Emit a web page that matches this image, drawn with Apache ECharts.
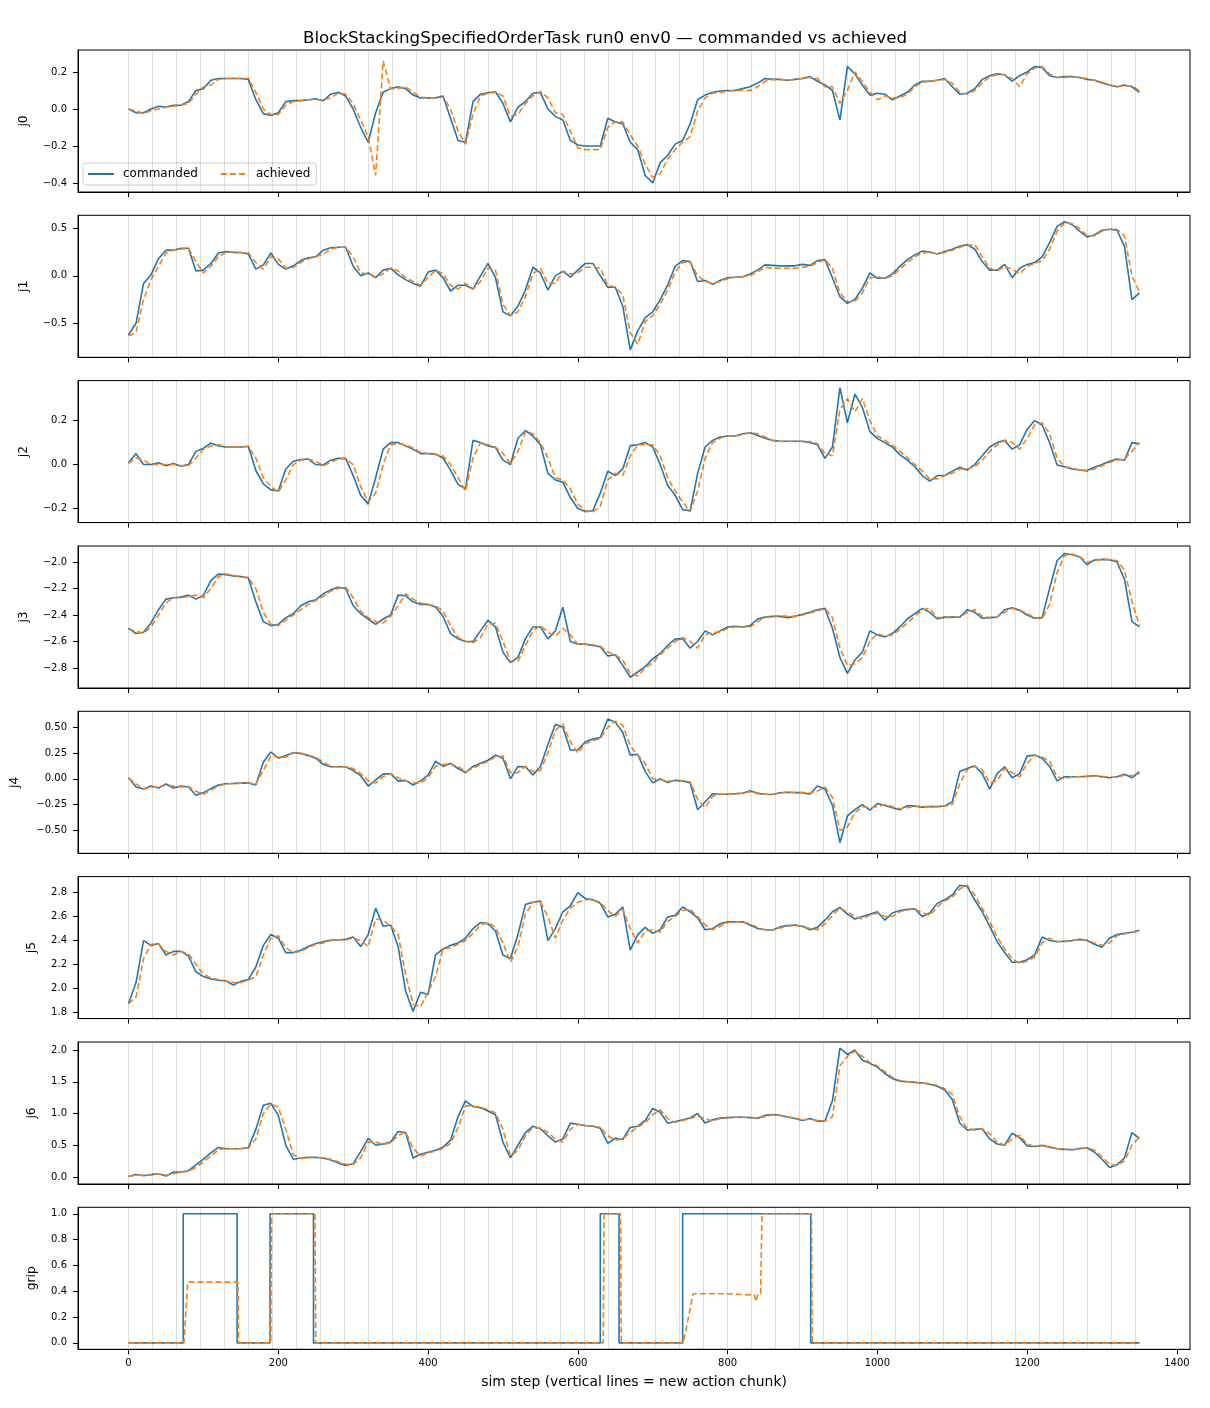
<!DOCTYPE html>
<html><head><meta charset="utf-8">
<script src="https://cdn.jsdelivr.net/npm/echarts@6/dist/echarts.min.js"></script>
<style>html,body{margin:0;padding:0;background:#fff}#c{width:1210px;height:1408px}</style>
</head><body><div id="c"></div>
<script>
// ---------- data ----------
const steps = [0,10,20,30,40,50,60,70,80,90,
100,110,120,130,140,150,160,170,180,190,
200,210,220,230,240,250,260,270,280,290,
300,310,320,330,340,350,360,370,380,390,
400,410,420,430,440,450,460,470,480,490,
500,510,520,530,540,550,560,570,580,590,
600,610,620,630,640,650,660,670,680,690,
700,710,720,730,740,750,760,770,780,790,
800,810,820,830,840,850,860,870,880,890,
900,910,920,930,940,950,960,970,980,990,
1000,1010,1020,1030,1040,1050,1060,1070,1080,1090,
1100,1110,1120,1130,1140,1150,1160,1170,1180,1190,
1200,1210,1220,1230,1240,1250,1260,1270,1280,1290,
1300,1310,1320,1330,1340,1350];

const j0Cmd = [0.0,-0.02,-0.02,0.0,0.015,0.01,0.02,0.02,0.04,0.10,
0.11,0.155,0.165,0.165,0.165,0.165,0.16,0.05,-0.025,-0.035,
-0.02,0.04,0.045,0.045,0.05,0.055,0.045,0.08,0.09,0.07,
0.0,-0.10,-0.18,-0.02,0.09,0.11,0.12,0.11,0.075,0.06,
0.06,0.06,0.07,-0.05,-0.17,-0.18,0.04,0.08,0.088,0.093,
0.03,-0.07,0.01,0.04,0.085,0.09,0.0,-0.04,-0.06,-0.17,
-0.195,-0.2,-0.2,-0.2,-0.05,-0.07,-0.08,-0.18,-0.22,-0.36,
-0.40,-0.29,-0.25,-0.19,-0.17,-0.08,0.05,0.075,0.09,0.097,
0.10,0.10,0.11,0.12,0.14,0.165,0.16,0.16,0.155,0.16,
0.165,0.175,0.15,0.13,0.10,-0.06,0.23,0.19,0.13,0.075,
0.085,0.08,0.05,0.07,0.09,0.13,0.15,0.15,0.155,0.165,
0.12,0.08,0.085,0.11,0.16,0.18,0.19,0.185,0.15,0.18,
0.2,0.23,0.225,0.18,0.17,0.175,0.175,0.17,0.16,0.155,
0.14,0.13,0.12,0.13,0.12,0.09];
const j0Ach = [0.0,-0.01,-0.025,-0.01,0.0,0.01,0.015,0.02,0.03,0.08,
0.12,0.13,0.16,0.165,0.165,0.165,0.165,0.09,0.0,-0.03,
-0.03,0.02,0.04,0.045,0.05,0.05,0.05,0.06,0.085,0.08,
0.03,-0.06,-0.15,-0.36,0.26,0.11,0.11,0.12,0.09,0.065,
0.06,0.06,0.065,0.0,-0.12,-0.19,-0.03,0.07,0.085,0.09,
0.07,-0.04,-0.03,0.03,0.07,0.095,0.06,-0.02,-0.03,-0.12,
-0.21,-0.22,-0.22,-0.22,-0.1,-0.07,-0.07,-0.14,-0.2,-0.3,
-0.37,-0.35,-0.27,-0.22,-0.18,-0.15,-0.01,0.06,0.085,0.09,
0.095,0.10,0.10,0.10,0.12,0.15,0.16,0.16,0.155,0.16,
0.165,0.17,0.165,0.12,0.12,0.03,0.10,0.2,0.15,0.09,
0.05,0.07,0.06,0.06,0.08,0.12,0.145,0.15,0.155,0.16,
0.14,0.09,0.08,0.1,0.14,0.175,0.185,0.185,0.165,0.12,
0.19,0.22,0.23,0.19,0.17,0.17,0.175,0.17,0.165,0.155,
0.145,0.13,0.12,0.125,0.125,0.1];

const j1Cmd = [-0.62,-0.5,-0.08,0.01,0.18,0.27,0.27,0.29,0.29,0.05,
0.06,0.13,0.24,0.255,0.245,0.245,0.23,0.07,0.115,0.24,
0.12,0.07,0.105,0.16,0.19,0.20,0.27,0.295,0.30,0.30,
0.10,0.0,0.03,-0.02,0.06,0.08,0.01,-0.04,-0.08,-0.11,
0.04,0.06,-0.02,-0.16,-0.1,-0.1,-0.14,0.0,0.13,-0.02,
-0.38,-0.42,-0.32,-0.15,0.09,0.03,-0.15,0.0,0.05,-0.015,
0.06,0.13,0.13,0.0,-0.12,-0.12,-0.32,-0.78,-0.58,-0.44,
-0.38,-0.25,-0.095,0.1,0.16,0.15,-0.06,-0.05,-0.09,-0.05,
-0.02,-0.015,-0.01,0.02,0.06,0.115,0.11,0.105,0.105,0.105,
0.12,0.11,0.16,0.17,-0.02,-0.22,-0.29,-0.25,-0.13,0.03,
-0.025,-0.025,0.02,0.1,0.17,0.22,0.26,0.25,0.23,0.255,
0.28,0.31,0.33,0.28,0.15,0.06,0.06,0.12,-0.02,0.08,
0.12,0.14,0.2,0.35,0.52,0.57,0.54,0.47,0.41,0.43,
0.48,0.49,0.48,0.31,-0.25,-0.18];
const j1Ach = [-0.63,-0.6,-0.25,-0.04,0.1,0.24,0.27,0.28,0.29,0.15,
0.03,0.1,0.2,0.25,0.25,0.245,0.24,0.14,0.07,0.2,
0.18,0.08,0.09,0.14,0.18,0.2,0.23,0.28,0.3,0.3,
0.2,0.03,0.02,-0.01,0.02,0.08,0.05,-0.02,-0.06,-0.1,
-0.02,0.06,0.02,-0.1,-0.14,-0.08,-0.14,-0.06,0.08,0.06,
-0.3,-0.42,-0.38,-0.22,0.02,0.08,-0.08,-0.08,0.05,0.02,
0.03,0.09,0.09,0.08,-0.1,-0.12,-0.2,-0.6,-0.72,-0.48,
-0.42,-0.3,-0.15,0.04,0.14,0.15,0.0,-0.06,-0.08,-0.06,
-0.03,-0.015,-0.01,0.0,0.04,0.09,0.08,0.08,0.08,0.08,
0.09,0.1,0.14,0.17,0.08,-0.18,-0.27,-0.27,-0.18,-0.02,
-0.01,-0.03,0.0,0.07,0.14,0.2,0.24,0.25,0.23,0.245,
0.27,0.3,0.32,0.33,0.2,0.08,0.05,0.1,0.07,0.02,
0.1,0.13,0.16,0.28,0.47,0.56,0.55,0.5,0.42,0.42,
0.47,0.49,0.49,0.42,0.0,-0.17];

const j2Cmd = [0.008,0.05,0.0,0.0,0.008,-0.005,0.005,-0.008,0.0,0.06,
0.074,0.098,0.085,0.08,0.08,0.08,0.083,-0.027,-0.088,-0.115,
-0.12,-0.02,0.015,0.023,0.025,0.0,-0.002,0.02,0.029,0.028,
-0.05,-0.14,-0.18,-0.06,0.07,0.1,0.1,0.085,0.07,0.05,
0.05,0.048,0.03,-0.025,-0.09,-0.11,0.11,0.1,0.085,0.078,
0.02,0.0,0.12,0.155,0.13,0.09,-0.04,-0.07,-0.08,-0.15,
-0.2,-0.214,-0.21,-0.13,-0.03,-0.05,-0.02,0.086,0.09,0.1,
0.08,0.0,-0.095,-0.14,-0.205,-0.21,-0.04,0.08,0.11,0.125,
0.13,0.13,0.14,0.145,0.132,0.12,0.11,0.106,0.106,0.106,
0.106,0.1,0.09,0.028,0.08,0.35,0.19,0.32,0.26,0.15,
0.118,0.1,0.08,0.045,0.02,-0.01,-0.05,-0.075,-0.05,-0.05,
-0.03,-0.012,-0.025,0.0,0.04,0.08,0.1,0.11,0.07,0.09,
0.16,0.2,0.18,0.1,-0.002,-0.01,-0.02,-0.025,-0.027,-0.012,
0.0,0.015,0.025,0.02,0.1,0.094];
const j2Ach = [0.005,0.03,0.02,0.0,0.0,0.0,0.0,-0.005,-0.005,0.03,
0.07,0.085,0.09,0.08,0.08,0.08,0.082,0.03,-0.06,-0.1,
-0.125,-0.07,0.0,0.02,0.025,0.015,-0.005,0.01,0.025,0.028,
0.0,-0.1,-0.17,-0.13,0.0,0.09,0.095,0.09,0.075,0.055,
0.05,0.045,0.04,0.0,-0.06,-0.12,0.03,0.1,0.09,0.08,
0.05,0.005,0.06,0.15,0.14,0.1,0.03,-0.06,-0.07,-0.11,
-0.18,-0.21,-0.215,-0.19,-0.07,-0.04,-0.05,0.04,0.09,0.09,
0.09,0.04,-0.06,-0.12,-0.17,-0.215,-0.12,0.03,0.1,0.12,
0.13,0.13,0.135,0.145,0.14,0.125,0.11,0.105,0.105,0.105,
0.105,0.105,0.095,0.05,0.04,0.25,0.3,0.24,0.3,0.2,
0.13,0.11,0.09,0.06,0.03,0.0,-0.03,-0.065,-0.065,-0.05,
-0.04,-0.02,-0.02,-0.01,0.02,0.06,0.09,0.11,0.1,0.07,
0.12,0.18,0.19,0.14,0.03,-0.01,-0.015,-0.025,-0.03,-0.02,
-0.005,0.01,0.02,0.025,0.06,0.1];

const j3Cmd = [-2.50,-2.54,-2.53,-2.46,-2.36,-2.28,-2.27,-2.265,-2.25,-2.28,
-2.25,-2.14,-2.09,-2.095,-2.105,-2.11,-2.12,-2.3,-2.45,-2.48,
-2.47,-2.42,-2.39,-2.33,-2.3,-2.285,-2.24,-2.21,-2.19,-2.2,
-2.33,-2.39,-2.43,-2.47,-2.43,-2.4,-2.25,-2.255,-2.3,-2.32,
-2.32,-2.34,-2.41,-2.54,-2.58,-2.6,-2.6,-2.52,-2.44,-2.49,
-2.68,-2.76,-2.72,-2.58,-2.49,-2.49,-2.58,-2.52,-2.34,-2.6,
-2.62,-2.62,-2.63,-2.64,-2.71,-2.7,-2.78,-2.87,-2.83,-2.79,
-2.73,-2.69,-2.63,-2.58,-2.58,-2.65,-2.6,-2.52,-2.55,-2.52,
-2.49,-2.485,-2.49,-2.48,-2.43,-2.416,-2.41,-2.41,-2.42,-2.41,
-2.395,-2.38,-2.36,-2.35,-2.5,-2.72,-2.84,-2.74,-2.68,-2.52,
-2.55,-2.565,-2.54,-2.49,-2.43,-2.39,-2.35,-2.38,-2.43,-2.416,
-2.416,-2.416,-2.36,-2.38,-2.425,-2.42,-2.416,-2.36,-2.345,-2.365,
-2.4,-2.425,-2.42,-2.2,-1.99,-1.935,-1.945,-1.96,-2.02,-1.985,
-1.98,-1.983,-2.0,-2.13,-2.45,-2.49];
const j3Ach = [-2.51,-2.52,-2.54,-2.49,-2.4,-2.31,-2.27,-2.27,-2.26,-2.25,
-2.27,-2.2,-2.11,-2.09,-2.1,-2.11,-2.115,-2.2,-2.38,-2.47,
-2.48,-2.44,-2.4,-2.36,-2.32,-2.29,-2.26,-2.22,-2.2,-2.19,
-2.27,-2.37,-2.42,-2.45,-2.46,-2.41,-2.33,-2.24,-2.28,-2.31,
-2.32,-2.33,-2.37,-2.48,-2.57,-2.6,-2.61,-2.57,-2.47,-2.46,
-2.6,-2.75,-2.75,-2.63,-2.52,-2.48,-2.53,-2.56,-2.5,-2.55,
-2.62,-2.62,-2.625,-2.635,-2.68,-2.7,-2.74,-2.84,-2.86,-2.8,
-2.76,-2.7,-2.65,-2.6,-2.57,-2.6,-2.65,-2.55,-2.53,-2.53,
-2.5,-2.49,-2.49,-2.49,-2.45,-2.42,-2.41,-2.405,-2.41,-2.41,
-2.4,-2.385,-2.37,-2.35,-2.42,-2.65,-2.78,-2.77,-2.72,-2.6,
-2.54,-2.56,-2.55,-2.51,-2.46,-2.41,-2.36,-2.35,-2.42,-2.42,
-2.42,-2.415,-2.38,-2.36,-2.41,-2.42,-2.415,-2.38,-2.35,-2.36,
-2.39,-2.42,-2.43,-2.32,-2.08,-1.95,-1.94,-1.96,-2.0,-1.99,
-1.98,-1.98,-1.99,-2.06,-2.3,-2.48];

const j4Cmd = [0.01,-0.08,-0.1,-0.07,-0.09,-0.05,-0.09,-0.07,-0.08,-0.16,
-0.134,-0.095,-0.06,-0.048,-0.045,-0.042,-0.04,-0.06,0.16,0.26,
0.2,0.225,0.254,0.245,0.225,0.2,0.14,0.117,0.117,0.117,
0.08,0.03,-0.07,-0.01,0.045,0.05,-0.023,-0.015,-0.06,-0.02,
0.036,0.17,0.12,0.15,0.1,0.06,0.12,0.15,0.18,0.23,
0.2,0.0,0.12,0.117,0.036,0.12,0.33,0.53,0.5,0.28,
0.28,0.36,0.385,0.4,0.58,0.55,0.45,0.23,0.238,0.07,
-0.04,0.0,-0.036,-0.015,-0.02,-0.04,-0.3,-0.225,-0.145,-0.15,
-0.15,-0.145,-0.14,-0.115,-0.143,-0.15,-0.153,-0.135,-0.13,-0.134,
-0.134,-0.15,-0.07,-0.1,-0.257,-0.62,-0.36,-0.3,-0.25,-0.305,
-0.24,-0.26,-0.28,-0.3,-0.26,-0.265,-0.275,-0.27,-0.27,-0.264,
-0.225,0.07,0.1,0.127,0.05,-0.1,0.05,0.117,0.01,0.05,
0.22,0.23,0.2,0.12,-0.02,0.02,0.02,0.02,0.025,0.03,
0.02,0.01,0.02,0.045,0.01,0.07];
const j4Ach = [0.01,-0.05,-0.1,-0.08,-0.08,-0.06,-0.07,-0.08,-0.075,-0.12,
-0.15,-0.11,-0.07,-0.05,-0.045,-0.043,-0.04,-0.05,0.08,0.22,
0.21,0.21,0.25,0.25,0.23,0.21,0.16,0.12,0.117,0.117,
0.1,0.05,-0.02,-0.04,0.02,0.05,0.01,-0.02,-0.04,-0.04,
0.01,0.12,0.14,0.14,0.12,0.07,0.1,0.14,0.17,0.21,
0.22,0.06,0.06,0.12,0.07,0.08,0.25,0.47,0.53,0.36,
0.25,0.34,0.37,0.39,0.5,0.56,0.52,0.32,0.23,0.15,
0.0,-0.01,-0.02,-0.025,-0.02,-0.03,-0.2,-0.28,-0.17,-0.15,
-0.15,-0.145,-0.14,-0.125,-0.135,-0.15,-0.15,-0.14,-0.13,-0.133,
-0.134,-0.14,-0.12,-0.08,-0.18,-0.5,-0.47,-0.33,-0.27,-0.28,
-0.27,-0.25,-0.27,-0.29,-0.28,-0.265,-0.27,-0.27,-0.27,-0.265,
-0.25,-0.05,0.09,0.12,0.09,-0.04,-0.02,0.1,0.06,0.02,
0.15,0.23,0.21,0.17,0.02,0.0,0.02,0.02,0.02,0.025,
0.025,0.015,0.015,0.035,0.03,0.05];

const j5Cmd = [1.875,2.05,2.4,2.36,2.375,2.28,2.31,2.31,2.27,2.14,
2.1,2.08,2.07,2.064,2.03,2.06,2.075,2.18,2.36,2.45,
2.42,2.3,2.3,2.32,2.35,2.375,2.39,2.405,2.405,2.41,
2.43,2.35,2.45,2.67,2.52,2.53,2.35,1.98,1.81,1.97,
1.95,2.28,2.33,2.36,2.38,2.42,2.5,2.55,2.54,2.48,
2.28,2.25,2.45,2.7,2.72,2.73,2.4,2.5,2.64,2.69,
2.8,2.75,2.74,2.71,2.597,2.62,2.68,2.32,2.45,2.51,
2.46,2.49,2.597,2.61,2.68,2.64,2.59,2.49,2.5,2.54,
2.556,2.556,2.556,2.53,2.5,2.49,2.486,2.514,2.525,2.53,
2.52,2.49,2.51,2.57,2.64,2.675,2.62,2.58,2.6,2.62,
2.64,2.57,2.63,2.65,2.66,2.665,2.6,2.63,2.71,2.74,
2.78,2.86,2.85,2.74,2.64,2.52,2.39,2.3,2.22,2.22,
2.24,2.28,2.43,2.4,2.39,2.395,2.4,2.41,2.4,2.37,
2.345,2.42,2.45,2.46,2.47,2.486];
const j5Ach = [1.875,1.93,2.25,2.37,2.37,2.31,2.28,2.31,2.29,2.2,
2.12,2.09,2.075,2.065,2.05,2.05,2.07,2.1,2.28,2.42,
2.44,2.34,2.3,2.31,2.34,2.37,2.38,2.4,2.405,2.405,
2.42,2.4,2.35,2.58,2.57,2.52,2.45,2.12,1.87,1.85,
1.97,2.1,2.33,2.34,2.37,2.4,2.46,2.53,2.55,2.51,
2.38,2.22,2.35,2.62,2.72,2.72,2.6,2.42,2.57,2.67,
2.72,2.74,2.74,2.72,2.65,2.6,2.66,2.5,2.38,2.48,
2.49,2.47,2.56,2.6,2.65,2.66,2.6,2.53,2.49,2.52,
2.55,2.556,2.555,2.54,2.51,2.49,2.49,2.505,2.52,2.525,
2.52,2.5,2.49,2.54,2.61,2.67,2.64,2.6,2.58,2.61,
2.63,2.6,2.6,2.64,2.655,2.665,2.63,2.61,2.68,2.73,
2.76,2.83,2.86,2.78,2.67,2.56,2.43,2.33,2.25,2.21,
2.23,2.26,2.38,2.42,2.395,2.39,2.4,2.41,2.405,2.38,
2.36,2.38,2.44,2.455,2.47,2.48];

const j6Cmd = [0.01,0.04,0.02,0.04,0.05,0.015,0.08,0.08,0.1,0.19,
0.28,0.38,0.466,0.445,0.445,0.45,0.46,0.75,1.13,1.16,
0.97,0.5,0.28,0.3,0.31,0.31,0.3,0.27,0.22,0.18,
0.21,0.4,0.61,0.5,0.52,0.55,0.717,0.7,0.3,0.36,
0.39,0.42,0.47,0.58,0.95,1.2,1.11,1.09,1.04,0.98,
0.55,0.3,0.5,0.7,0.8,0.76,0.65,0.55,0.6,0.848,
0.83,0.81,0.8,0.77,0.53,0.61,0.59,0.78,0.8,0.89,
1.08,1.02,0.848,0.874,0.9,0.93,1.0,0.85,0.9,0.927,
0.935,0.94,0.94,0.935,0.927,0.97,0.985,0.97,0.945,0.92,
0.89,0.92,0.88,0.88,1.2,2.03,1.93,2.0,1.84,1.79,
1.73,1.63,1.55,1.51,1.5,1.49,1.48,1.46,1.43,1.37,
1.22,0.85,0.74,0.75,0.76,0.6,0.52,0.5,0.69,0.62,
0.49,0.48,0.5,0.47,0.445,0.435,0.43,0.45,0.46,0.39,
0.28,0.15,0.19,0.3,0.7,0.61];
const j6Ach = [0.01,0.03,0.03,0.03,0.05,0.03,0.05,0.08,0.09,0.15,
0.24,0.33,0.43,0.45,0.445,0.445,0.455,0.6,1.0,1.15,
1.1,0.75,0.35,0.29,0.305,0.31,0.3,0.28,0.24,0.2,
0.2,0.3,0.55,0.55,0.51,0.54,0.65,0.71,0.45,0.33,
0.38,0.41,0.45,0.53,0.78,1.12,1.12,1.1,1.06,1.01,
0.75,0.33,0.42,0.65,0.78,0.77,0.7,0.6,0.55,0.75,
0.83,0.81,0.8,0.78,0.65,0.58,0.6,0.7,0.79,0.85,
0.98,1.06,0.92,0.86,0.89,0.92,0.96,0.92,0.88,0.92,
0.93,0.94,0.94,0.935,0.93,0.95,0.98,0.975,0.95,0.93,
0.9,0.91,0.89,0.88,0.95,1.75,1.9,1.98,1.9,1.8,
1.75,1.66,1.57,1.52,1.5,1.49,1.48,1.47,1.44,1.39,
1.3,0.95,0.76,0.74,0.76,0.68,0.55,0.5,0.6,0.66,
0.52,0.48,0.49,0.48,0.45,0.44,0.43,0.44,0.46,0.42,
0.32,0.2,0.18,0.25,0.5,0.63];

// grip is a step signal: change points
const gripCmdSteps = [0,73,73,145,145,189,189,247,247,630,630,655,655,740,740,911,911,1350];
const gripCmdVals  = [0,0,1,1,0,0,1,1,0,0,1,1,0,0,1,1,0,0];
const gripAchSteps = [0,74,79,146,147,190,191,249,250,634,635,657,658,741,746,754,800,836,838,840,844,846,912,913,1350];
const gripAchVals  = [0,0,0.47,0.47,0,0,1,1,0,0,1,1,0,0,0.15,0.38,0.38,0.37,0.32,0.37,0.37,1,1,0,0];

const chunkStarts = [0,32,64,96,128,160,192,224,256,288,320,352,384,416,448,480,512,544,576,608,640,672,704,736,768,800,832,864,896,928,960,992,1024,1056,1088,1120,1152,1184,1216,1248,1280,1312,1344];

const xTicks = [0,200,400,600,800,1000,1200,1400];
const j0Ticks = [-0.4,-0.2,0.0,0.2];
const j1Ticks = [-0.5,0.0,0.5];
const j2Ticks = [-0.2,0.0,0.2];
const j3Ticks = [-2.8,-2.6,-2.4,-2.2,-2.0];
const j4Ticks = [-0.5,-0.25,0.0,0.25,0.5];
const j5Ticks = [1.8,2.0,2.2,2.4,2.6,2.8];
const j6Ticks = [0.0,0.5,1.0,1.5,2.0];
const gripTicks = [0.0,0.2,0.4,0.6,0.8,1.0];

const titleText = 'BlockStackingSpecifiedOrderTask run0 env0 \u2014 commanded vs achieved';
const xLabelText = 'sim step (vertical lines = new action chunk)';

// ---------- layout ----------
const FONT = 'DejaVu Sans';
const BLUE = '#1f77b4', ORANGE = '#ff7f0e';
const panels = [
  {name:'j0', cmd:j0Cmd, ach:j0Ach, ticks:j0Ticks, min:-0.449, max:0.319, dec:1, gap:48},
  {name:'j1', cmd:j1Cmd, ach:j1Ach, ticks:j1Ticks, min:-0.858, max:0.637, dec:1, gap:48},
  {name:'j2', cmd:j2Cmd, ach:j2Ach, ticks:j2Ticks, min:-0.264, max:0.382, dec:1, gap:48},
  {name:'j3', cmd:j3Cmd, ach:j3Ach, ticks:j3Ticks, min:-2.951, max:-1.879, dec:1, gap:48},
  {name:'j4', cmd:j4Cmd, ach:j4Ach, ticks:j4Ticks, min:-0.723, max:0.655, dec:2, gap:57},
  {name:'j5', cmd:j5Cmd, ach:j5Ach, ticks:j5Ticks, min:1.75, max:2.933, dec:1, gap:40},
  {name:'j6', cmd:j6Cmd, ach:j6Ach, ticks:j6Ticks, min:-0.11, max:2.126, dec:1, gap:40},
  {name:'grip', ticks:gripTicks, min:-0.05, max:1.05, dec:1, gap:40}
];
const tops = [50, 215.3, 380.6, 546, 711.3, 876.6, 1042, 1207.3];
const H = 142;

function fmt(v, d){ return v.toFixed(d).replace('-', '\u2212'); }

const grids = [], xAxes = [], yAxes = [], series = [];
let bad = [];
panels.forEach((p, i) => {
  if (p.cmd && (p.cmd.length !== steps.length || p.ach.length !== steps.length)) bad.push(p.name);
  grids.push({left:78, width:1112, top:tops[i], height:H, show:true, borderColor:'#000', borderWidth:1, backgroundColor:'transparent'});
  const last = i === panels.length - 1;
  xAxes.push({
    type:'value', gridIndex:i, min:-67.5, max:1417.5,
    axisLine:{show:true, onZero:false, lineStyle:{color:'#000', width:1}},
    splitLine:{show:false},
    axisTick:{show:true, length:5, lineStyle:{color:'#000', width:1}, customValues:xTicks},
    axisLabel:{show:last, customValues:xTicks, fontSize:10, color:'#000', fontFamily:FONT, margin:9,
      formatter:v => String(v)},
    name: last ? xLabelText : '', nameLocation:'middle', nameGap:26,
    nameTextStyle:{fontSize:13.9, color:'#000', fontFamily:FONT}
  });
  yAxes.push({
    type:'value', gridIndex:i, min:p.min, max:p.max,
    axisLine:{show:true, onZero:false, lineStyle:{color:'#000', width:1}},
    splitLine:{show:false},
    axisTick:{show:true, length:5, lineStyle:{color:'#000', width:1}, customValues:p.ticks},
    axisLabel:{show:true, customValues:p.ticks, fontSize:10, color:'#000', fontFamily:FONT, margin:11,
      formatter:v => fmt(v, p.dec)},
    name:p.name, nameLocation:'middle', nameRotate:90, nameGap:p.gap,
    nameTextStyle:{fontSize:12.3, color:'#000', fontFamily:FONT}
  });
  series.push({
    type:'line', xAxisIndex:i, yAxisIndex:i, data:[], silent:true, z:1,
    markLine:{symbol:'none', silent:true, animation:false, label:{show:false},
      lineStyle:{color:'rgba(0,0,0,0.13)', width:1, type:'solid'},
      emphasis:{disabled:true},
      data: chunkStarts.map(v => ({xAxis:v}))}
  });
  let cmdData, achData;
  if (p.name === 'grip') {
    cmdData = gripCmdSteps.map((s,k) => [s, gripCmdVals[k]]);
    achData = gripAchSteps.map((s,k) => [s, gripAchVals[k]]);
  } else {
    cmdData = steps.map((s,k) => [s, p.cmd[k]]);
    achData = steps.map((s,k) => [s, p.ach[k]]);
  }
  series.push({
    type:'line', name:'commanded', xAxisIndex:i, yAxisIndex:i, data:cmdData,
    symbol:'none', showSymbol:false, z:3,
    lineStyle:{color:BLUE, width:1.6}, itemStyle:{color:BLUE}
  });
  series.push({
    type:'line', name:'achieved', xAxisIndex:i, yAxisIndex:i, data:achData,
    symbol:'none', showSymbol:false, z:4,
    lineStyle:{color:ORANGE, width:1.6, type:[6,3]}, itemStyle:{color:ORANGE}
  });
});

const chart = echarts.init(document.getElementById('c'), null, {renderer:'canvas'});
chart.setOption({
  animation:false,
  backgroundColor:'#fff',
  textStyle:{fontFamily:FONT},
  title:{text: bad.length ? ('LENGTH MISMATCH: ' + bad.join(',')) : titleText, left:'center', top:25,
    textStyle:{fontSize:16.7, fontWeight:'normal', color:'#000', fontFamily:FONT}},
  legend:{
    data:['commanded','achieved'], left:83, top:163, orient:'horizontal',
    backgroundColor:'rgba(255,255,255,0.8)', borderColor:'#cccccc', borderWidth:1, borderRadius:3,
    padding:[5,6,5,4], itemWidth:26, itemHeight:10, itemGap:22,
    itemStyle:{opacity:0},
    textStyle:{fontSize:12, color:'#000', fontFamily:FONT, padding:[0,0,0,4]}
  },
  grid:grids, xAxis:xAxes, yAxis:yAxes, series:series
});
</script></body></html>
